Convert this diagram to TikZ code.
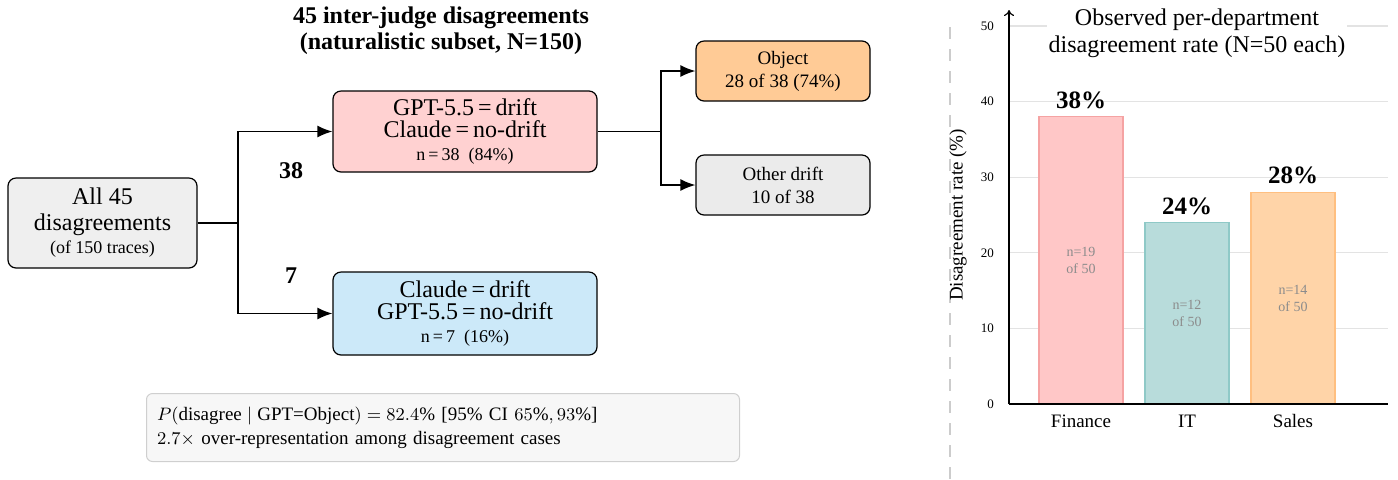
\documentclass[tikz,border=0pt]{standalone}
\usepackage{amsmath}
\usepackage{fontspec}
\setmainfont{Liberation Serif}
\usetikzlibrary{arrows.meta,calc,positioning}

\definecolor{boxgray}{HTML}{EFEFEF}
\definecolor{boxred}{HTML}{FFD1D1}
\definecolor{boxblue}{HTML}{CCE9F9}
\definecolor{boxorange}{HTML}{FFCB96}
\definecolor{boxother}{HTML}{EBEBEB}
\definecolor{notefill}{HTML}{F7F7F7}
\definecolor{noteline}{HTML}{CFCFCF}
\definecolor{gridgray}{HTML}{E3E3E3}
\definecolor{finfill}{HTML}{FFC7C7}
\definecolor{findraw}{HTML}{F5A3A3}
\definecolor{itfill}{HTML}{B8DCDB}
\definecolor{itdraw}{HTML}{8FC9C7}
\definecolor{salfill}{HTML}{FFD4A8}
\definecolor{saldraw}{HTML}{FFBF80}

\tikzset{
  judgebox/.style={draw, line width=0.6pt, rounded corners=4pt, align=center, inner sep=2pt},
  flow/.style={line width=0.75pt, -{Latex[length=7.5pt,width=6pt]}},
  barlabel/.style={font=\bfseries\fontsize{12.5}{14}\selectfont},
  countlabel/.style={font=\fontsize{7}{8.5}\selectfont, text=black!45, align=center},
}

\begin{document}
\begin{tikzpicture}[x=0.5pt,y=-0.5pt]
  \useasboundingbox (0,0) rectangle (1398,479);

  % left panel: how the disagreements split
  \node[font=\bfseries\fontsize{12}{13}\selectfont, align=center] (title) at (441,30.5)
    {45 inter-judge disagreements\\(naturalistic subset, N=150)};

  \node[judgebox, fill=boxgray, minimum width=94.5pt, minimum height=45pt,
        font=\fontsize{12}{13}\selectfont] (all) at (102.5,223)
    {All 45\\disagreements\\[-1.5pt]{\fontsize{9}{11}\selectfont (of 150 traces)}};

  \node[judgebox, fill=boxred, minimum width=132pt, minimum height=40.5pt,
        font=\fontsize{12}{11}\selectfont] (gptdrift) at (465,131.5)
    {GPT-5.5\,=\,drift\\Claude\,=\,no-drift\\[0.5pt]{\fontsize{9}{11}\selectfont n\,=\,38\ \ (84\%)}};

  \node[judgebox, fill=boxblue, minimum width=132pt, minimum height=41.5pt,
        font=\fontsize{12}{11}\selectfont] (claudedrift) at (465,313.5)
    {Claude\,=\,drift\\GPT-5.5\,=\,no-drift\\[0.5pt]{\fontsize{9}{11}\selectfont n\,=\,7\ \ (16\%)}};

  \node[judgebox, fill=boxorange, minimum width=87pt, minimum height=30pt,
        font=\fontsize{9.5}{11.5}\selectfont] (object) at (783,71)
    {Object\\28 of 38 (74\%)};

  \node[judgebox, fill=boxother, minimum width=87pt, minimum height=30pt,
        font=\fontsize{9.5}{11.5}\selectfont] (other) at (783,185)
    {Other drift\\10 of 38};

  \coordinate (split) at (238,223);
  \coordinate (split2) at (661,131.5);
  \draw[line width=0.75pt] (all.east) -- (split);
  \draw[flow] (split) |- (gptdrift.west);
  \draw[flow] (split) |- (claudedrift.west);
  \draw[line width=0.75pt] (gptdrift.east) -- (split2);
  \draw[flow] (split2) |- (object.west);
  \draw[flow] (split2) |- (other.west);

  \node[font=\bfseries\fontsize{12}{14}\selectfont] (n38) at (291,171) {38};
  \node[font=\bfseries\fontsize{12}{14}\selectfont] (n7) at (291,276) {7};

  \node[draw=noteline, fill=notefill, line width=0.5pt, rounded corners=3pt,
        minimum width=296.5pt, minimum height=34pt, anchor=north west,
        align=left, text width=286pt, font=\fontsize{9.5}{12}\selectfont] (note) at (146,393)
    {$P(\text{disagree}\mid\text{GPT=Object}) = 82.4\%$ [95\% CI $65\%, 93\%$]\\
     $2.7\times$ over-representation among disagreement cases};

  % separator
  \draw[black!20, line width=0.6pt, dash pattern=on 6pt off 5pt] (950,27) -- (950,479);

  % right panel: bar chart
  \foreach \v in {10,20,...,50}
    \draw[gridgray, line width=0.6pt] (1009,{404-7.56*\v}) -- (1388,{404-7.56*\v});
  \foreach \v in {0,10,...,50}
    \node[anchor=east, font=\fontsize{6.5}{8}\selectfont] at (1001,{404-7.56*\v}) {\v};

  \node[fill=white, inner sep=1pt, font=\fontsize{12}{13.5}\selectfont, align=center] (charttitle) at (1197,33)
    {Observed per-department\\disagreement rate (N=50 each)};

  \node[rotate=90, font=\fontsize{9.5}{11}\selectfont] (ylabel) at (958,215) {Disagreement rate (\%)};

  \foreach \x/\val/\cnt/\fc/\dc/\name in {1039/38/19/finfill/findraw/Finance,
                                        1145/24/12/itfill/itdraw/IT,
                                        1251/28/14/salfill/saldraw/Sales} {
    \draw[fill=\fc, draw=\dc, line width=0.6pt] (\x,404) rectangle ++(84,{-7.56*\val});
    \node[barlabel, anchor=south] at ({\x+42},{404-7.56*\val-1}) {\val\%};
    \node[countlabel] at ({\x+42},{404-3.78*\val}) {n=\cnt\\of 50};
    \node[font=\fontsize{9.5}{11}\selectfont] at ({\x+42},421) {\name};
  }

  \draw[line width=0.6pt] (1009,404) -- (1388,404);
  \draw[line width=0.6pt, -{To[length=3pt,width=5pt]}] (1009,404) -- (1009,10);
\end{tikzpicture}
\end{document}
